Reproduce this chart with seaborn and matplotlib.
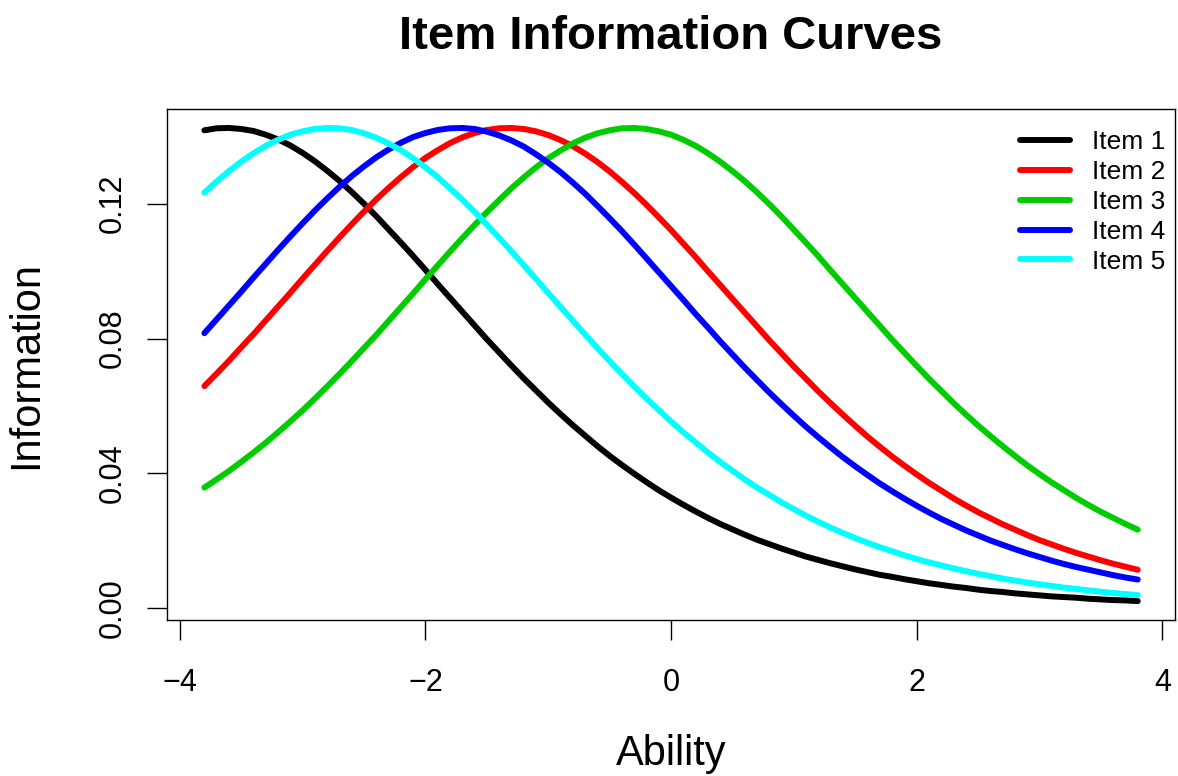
import numpy as np
import pandas as pd
import matplotlib
matplotlib.use("Agg")
import matplotlib.pyplot as plt
import seaborn as sns

### data ###
ability = [-3.8, -3.7, -3.6, -3.5, -3.4, -3.3, -3.2, -3.1, -3.0, -2.9,
           -2.8, -2.7, -2.6, -2.5, -2.4, -2.3, -2.2, -2.1, -2.0, -1.9,
           -1.8, -1.7, -1.6, -1.5, -1.4, -1.3, -1.2, -1.1, -1.0, -0.9,
           -0.8, -0.7, -0.6, -0.5, -0.4, -0.3, -0.2, -0.1, 0.0, 0.1,
           0.2, 0.3, 0.4, 0.5, 0.6, 0.7, 0.8, 0.9, 1.0, 1.1,
           1.2, 1.3, 1.4, 1.5, 1.6, 1.7, 1.8, 1.9, 2.0, 2.1,
           2.2, 2.3, 2.4, 2.5, 2.6, 2.7, 2.8, 2.9, 3.0, 3.1,
           3.2, 3.3, 3.4, 3.5, 3.6, 3.7, 3.8]

item1 = [0.1418, 0.1424, 0.1425, 0.1422, 0.1416, 0.1405, 0.1391, 0.1373, 0.1351, 0.1326,
         0.1298, 0.1268, 0.1235, 0.1200, 0.1163, 0.1124, 0.1085, 0.1045, 0.1004, 0.0962,
         0.0921, 0.0880, 0.0839, 0.0798, 0.0759, 0.0720, 0.0682, 0.0646, 0.0610, 0.0576,
         0.0543, 0.0512, 0.0481, 0.0452, 0.0425, 0.0399, 0.0374, 0.0350, 0.0328, 0.0307,
         0.0287, 0.0268, 0.0250, 0.0234, 0.0218, 0.0203, 0.0190, 0.0177, 0.0165, 0.0153,
         0.0143, 0.0133, 0.0124, 0.0115, 0.0107, 0.0099, 0.0093, 0.0086, 0.0080, 0.0074,
         0.0069, 0.0064, 0.0060, 0.0055, 0.0051, 0.0048, 0.0044, 0.0041, 0.0038, 0.0035,
         0.0033, 0.0031, 0.0028, 0.0026, 0.0024, 0.0023, 0.0021]
item2 = [0.0659, 0.0696, 0.0734, 0.0774, 0.0813, 0.0854, 0.0895, 0.0936, 0.0978, 0.1019,
         0.1060, 0.1100, 0.1139, 0.1177, 0.1213, 0.1247, 0.1279, 0.1309, 0.1336, 0.1359,
         0.1380, 0.1397, 0.1410, 0.1419, 0.1424, 0.1425, 0.1422, 0.1415, 0.1404, 0.1389,
         0.1371, 0.1349, 0.1324, 0.1296, 0.1265, 0.1232, 0.1197, 0.1160, 0.1122, 0.1082,
         0.1042, 0.1000, 0.0959, 0.0918, 0.0877, 0.0836, 0.0795, 0.0756, 0.0717, 0.0680,
         0.0643, 0.0608, 0.0574, 0.0541, 0.0509, 0.0479, 0.0450, 0.0423, 0.0397, 0.0372,
         0.0349, 0.0326, 0.0305, 0.0285, 0.0267, 0.0249, 0.0233, 0.0217, 0.0202, 0.0189,
         0.0176, 0.0164, 0.0153, 0.0142, 0.0132, 0.0123, 0.0114]
item3 = [0.0358, 0.0382, 0.0407, 0.0434, 0.0462, 0.0491, 0.0522, 0.0554, 0.0587, 0.0622,
         0.0658, 0.0695, 0.0733, 0.0772, 0.0811, 0.0852, 0.0893, 0.0934, 0.0976, 0.1017,
         0.1058, 0.1098, 0.1137, 0.1175, 0.1211, 0.1246, 0.1278, 0.1308, 0.1335, 0.1358,
         0.1379, 0.1396, 0.1409, 0.1418, 0.1424, 0.1425, 0.1422, 0.1415, 0.1405, 0.1390,
         0.1372, 0.1350, 0.1325, 0.1297, 0.1267, 0.1234, 0.1199, 0.1162, 0.1123, 0.1084,
         0.1044, 0.1002, 0.0961, 0.0920, 0.0879, 0.0838, 0.0797, 0.0758, 0.0719, 0.0681,
         0.0645, 0.0609, 0.0575, 0.0542, 0.0511, 0.0481, 0.0452, 0.0424, 0.0398, 0.0373,
         0.0350, 0.0327, 0.0306, 0.0286, 0.0268, 0.0250, 0.0233]
item4 = [0.0816, 0.0857, 0.0898, 0.0939, 0.0981, 0.1022, 0.1063, 0.1103, 0.1142, 0.1180,
         0.1216, 0.1250, 0.1282, 0.1311, 0.1338, 0.1361, 0.1381, 0.1398, 0.1410, 0.1419,
         0.1424, 0.1425, 0.1422, 0.1414, 0.1403, 0.1388, 0.1370, 0.1347, 0.1322, 0.1294,
         0.1263, 0.1230, 0.1194, 0.1157, 0.1119, 0.1079, 0.1038, 0.0997, 0.0956, 0.0915,
         0.0873, 0.0833, 0.0792, 0.0753, 0.0714, 0.0677, 0.0640, 0.0605, 0.0571, 0.0538,
         0.0507, 0.0477, 0.0448, 0.0421, 0.0395, 0.0370, 0.0347, 0.0325, 0.0304, 0.0284,
         0.0265, 0.0248, 0.0231, 0.0216, 0.0201, 0.0188, 0.0175, 0.0163, 0.0152, 0.0141,
         0.0131, 0.0122, 0.0114, 0.0106, 0.0098, 0.0091, 0.0085]
item5 = [0.1233, 0.1266, 0.1297, 0.1325, 0.1350, 0.1372, 0.1390, 0.1405, 0.1415, 0.1422,
         0.1425, 0.1424, 0.1419, 0.1409, 0.1396, 0.1379, 0.1359, 0.1335, 0.1308, 0.1279,
         0.1246, 0.1212, 0.1176, 0.1138, 0.1099, 0.1059, 0.1018, 0.0977, 0.0935, 0.0894,
         0.0853, 0.0812, 0.0772, 0.0733, 0.0695, 0.0658, 0.0622, 0.0588, 0.0554, 0.0522,
         0.0492, 0.0462, 0.0434, 0.0408, 0.0382, 0.0358, 0.0336, 0.0314, 0.0294, 0.0274,
         0.0256, 0.0239, 0.0223, 0.0208, 0.0194, 0.0181, 0.0169, 0.0157, 0.0146, 0.0136,
         0.0127, 0.0118, 0.0110, 0.0102, 0.0095, 0.0088, 0.0082, 0.0076, 0.0071, 0.0066,
         0.0061, 0.0057, 0.0053, 0.0049, 0.0045, 0.0042, 0.0039]

item_names = ["Item 1", "Item 2", "Item 3", "Item 4", "Item 5"]
item_colors = ["#000000", "#FF0000", "#00CD00", "#0000FF", "#00FFFF"]

x_ticks = [-4, -2, 0, 2, 4]
x_ticklabels = ["\u22124", "\u22122", "0", "2", "4"]
y_ticks = [0.00, 0.04, 0.08, 0.12]
y_ticklabels = ["0.00", "0.04", "0.08", "0.12"]

### long-form table for seaborn ###
frames = []
for name, vals in zip(item_names, [item1, item2, item3, item4, item5]):
    frames.append(pd.DataFrame({"Ability": ability, "Information": vals, "item": name}))
df = pd.concat(frames, ignore_index=True)

sns.set_theme(style="white")
plt.rcParams['font.family'] = ['Liberation Sans', 'DejaVu Sans']
plt.rcParams['text.color'] = 'black'
plt.rcParams['axes.labelcolor'] = 'black'
plt.rcParams['xtick.color'] = 'black'
plt.rcParams['ytick.color'] = 'black'

fig = plt.figure(figsize=(11.78, 7.76), dpi=100)
ax = fig.add_axes([0.1418, 0.2010, 0.8557, 0.6585])

lw = 4.3
sns.lineplot(data=df, x="Ability", y="Information", hue="item",
             palette=dict(zip(item_names, item_colors)), estimator=None,
             linewidth=lw, solid_capstyle="round", solid_joinstyle="round", ax=ax)

# R style 4% padding around the data range
xr = max(ability) - min(ability)
ax.set_xlim(min(ability) - 0.04 * xr, max(ability) + 0.04 * xr)
ymin, ymax = df["Information"].min(), df["Information"].max()
yr = ymax - ymin
ax.set_ylim(ymin - 0.04 * yr, ymax + 0.04 * yr)

ax.set_xticks(x_ticks)
ax.set_xticklabels(x_ticklabels, fontsize=22)
ax.set_yticks(y_ticks)
ax.set_yticklabels(y_ticklabels, fontsize=22, rotation=90, va="center")
ax.tick_params(axis="both", direction="out", length=14.4, width=1.0,
               color="black", labelcolor="black", bottom=True, left=True)
ax.tick_params(axis="x", pad=20)
ax.tick_params(axis="y", pad=14)

for s in ax.spines.values():
    s.set_visible(True)
    s.set_color("black")
    s.set_linewidth(1.0)

ax.set_xlabel("Ability", fontsize=30, labelpad=26, color="black")
ax.set_ylabel("Information", fontsize=30, labelpad=37, color="black")
ax.set_title("Item Information Curves", fontsize=34, fontweight="bold",
             pad=43.5, color="black")

handles, labels = ax.get_legend_handles_labels()
leg = ax.legend(handles, labels, loc="upper right", bbox_to_anchor=(1.0035, 0.984),
                frameon=False, fontsize=19, labelspacing=0.22,
                handlelength=1.9, handletextpad=0.83, borderaxespad=0.1)
for line in leg.get_lines():
    line.set_linewidth(lw)
    line.set_solid_capstyle("round")
for t in leg.get_texts():
    t.set_color("black")

fig.savefig("out.png", dpi=100)
